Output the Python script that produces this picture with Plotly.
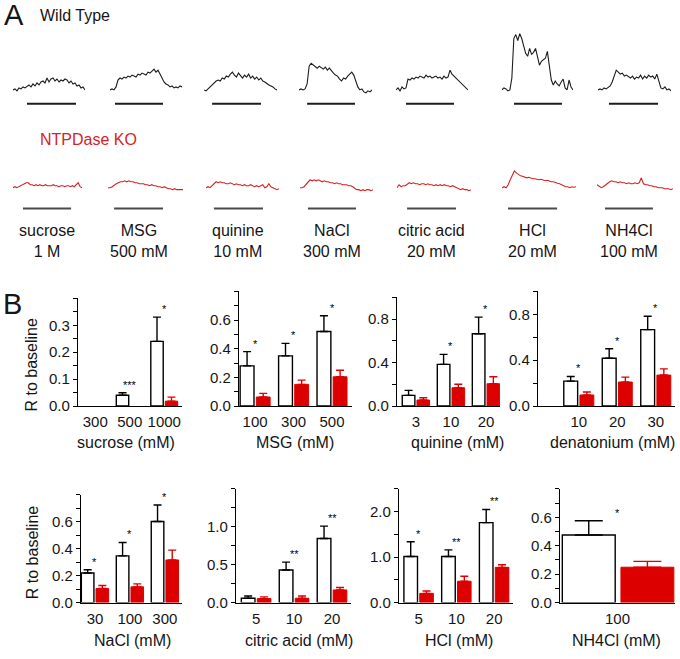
import plotly.graph_objects as go

W, H = 680, 659
FONT = "Liberation Sans, Arial, sans-serif"
BAR_RED = "#dd0000"
TRACE_RED = "#d62222"
TXT = "#151515"

# ---------------- Panel A: stimuli and response traces ----------------
stimuli = ["sucrose", "MSG", "quinine", "NaCl", "citric acid", "HCl", "NH4Cl"]
concentrations = ["1 M", "500 mM", "10 mM", "300 mM", "20 mM", "20 mM", "100 mM"]

# wild-type traces (rise above baseline, arbitrary units)
wt_sucrose = [0, 1, -1, 2, 1, 3, 2, 4, 5, 3, 6, 4, 7, 5, 8, 9, 7, 12, 8, 11, 12, 9, 11, 8, 10, 9, 11, 10, 7, 9, 6, 7, 4, 5, 2, 3, 0]
wt_msg = [0, 1, 0, 3, 10, 12, 11, 13, 12, 14, 13, 15, 14, 13, 16, 15, 17, 16, 15, 18, 17, 19, 21, 18, 20, 16, 12, 8, 6, 5, 3, 4, 2, 3, 2, 4, 3]
wt_quinine = [0, -1, 1, 3, 6, 8, 9, 10, 9, 12, 11, 14, 13, 16, 18, 15, 13, 17, 14, 12, 15, 13, 16, 12, 14, 11, 13, 10, 12, 9, 8, 6, 5, 4, 3, 1, 0]
wt_nacl = [0, 1, 0, 1, 6, 24, 27, 25, 23, 22, 24, 22, 21, 23, 20, 22, 19, 17, 15, 14, 11, 9, 12, 11, 14, 16, 18, 15, 8, 3, 0, 1, -2, -3, -1, -2, 0]
wt_citric = [0, 2, -1, 3, 1, 2, 11, 10, 12, 11, 13, 12, 14, 13, 12, 15, 13, 14, 12, 13, 14, 12, 13, 11, 14, 12, 13, 20, 16, 14, 12, 9, 7, 5, 3, 2, 0]
wt_hcl = [0, 2, 1, -1, 0, 12, 52, 56, 50, 57, 52, 45, 37, 34, 42, 36, 38, 42, 32, 25, 29, 31, 32, 39, 24, 10, 5, 9, 6, 4, 8, 11, 2, 0, 10, 3, 0]
wt_nh4cl = [0, 1, 0, 2, 1, 3, 4, 8, 13, 20, 18, 16, 17, 14, 15, 13, 12, 14, 11, 13, 12, 15, 11, 14, 12, 15, 13, 14, 11, 16, 8, 2, 1, 3, 0, 1, -1]

# NTPDase KO traces
ko_sucrose = [0, 1, 0, 1, 2, 3, 4, 5, 5, 3, 3, 2, 3, 2, 3, 2, 2, 3, 2, 2, 2, 3, 2, 2, 1, 2, 2, 1, 2, 2, 1, 2, 1, 3, 5, 1, 0]
ko_msg = [0, 0, 1, 3, 4, 5, 6, 6, 7, 6, 7, 6, 6, 5, 5, 4, 4, 4, 3, 3, 2, 3, 2, 2, 1, 1, 0, 1, 0, -1, -1, -2, -1, -2, -2, -2, -2]
ko_quinine = [0, 1, 0, 2, 5, 6, 5, 6, 5, 5, 4, 4, 5, 4, 3, 4, 3, 3, 2, 3, 2, 2, 3, 2, 1, 2, 1, 2, 3, 0, 1, 4, 1, 0, -1, -2, -1]
ko_nacl = [0, 0, 1, 3, 6, 8, 7, 8, 7, 8, 7, 6, 7, 6, 6, 5, 5, 4, 5, 4, 4, 3, 3, 3, 2, 2, 1, -1, -2, -2, -3, -2, -3, -2, -2, -3, -2]
ko_citric = [0, 3, 1, 2, 2, 4, 5, 4, 5, 4, 4, 3, 4, 4, 3, 4, 3, 3, 2, 3, 2, 3, 2, 3, 2, 2, 1, 2, 1, 0, -1, -2, -1, -2, -2, -3, -2]
ko_hcl = [0, 1, 0, 3, 8, 12, 17, 15, 13, 12, 11.5, 11, 10, 10.5, 9.5, 9, 9, 8.5, 8, 8.5, 7.5, 7, 7.5, 6.5, 6, 6, 5, 4.5, 4, 3, 2, 1, 1, 0, 1, 0.5, 1]
ko_nh4cl = [3, 1, 0, 1, 3, 5, 6, 7, 6, 6, 5, 6, 5, 5, 4, 5, 4, 4, 5, 4, 5, 10, 4, 3, 3, 2, 2, 1, 1, 0, 0, 0, -1, -1, -1, -2, -1]

wt_traces = [wt_sucrose, wt_msg, wt_quinine, wt_nacl, wt_citric, wt_hcl, wt_nh4cl]
ko_traces = [ko_sucrose, ko_msg, ko_quinine, ko_nacl, ko_citric, ko_hcl, ko_nh4cl]

# stimulus application window (sample index on, off)
wt_stim = [(7.0, 31.5), (2.5, 26.5), (4.0, 28.1), (4.0, 27.6), (5.0, 29.0), (6.1, 30.4), (5.4, 29.6)]
ko_stim = [(5.2, 30.3), (2.9, 26.4), (3.9, 28.1), (3.9, 27.6), (4.9, 28.7), (2.9, 26.8), (3.8, 26.5)]

# ---------------- Panel B: bar chart data ----------------
sucrose_conc = ["300", "500", "1000"]
sucrose_wt = [None, 0.04, 0.24]
sucrose_wt_err = [0, 0.009, 0.09]
sucrose_ko = [None, None, 0.018]
sucrose_ko_err = [0, 0, 0.015]
sucrose_sig = ["", "***", "*"]

msg_conc = ["100", "300", "500"]
msg_wt = [0.28, 0.35, 0.52]
msg_wt_err = [0.10, 0.087, 0.11]
msg_ko = [0.063, 0.151, 0.204]
msg_ko_err = [0.025, 0.03, 0.046]
msg_sig = ["*", "*", "*"]

quinine_conc = ["3", "10", "20"]
quinine_wt = [0.098, 0.383, 0.665]
quinine_wt_err = [0.046, 0.092, 0.153]
quinine_ko = [0.055, 0.168, 0.205]
quinine_ko_err = [0.021, 0.032, 0.065]
quinine_sig = ["", "*", "*"]

denat_conc = ["10", "20", "30"]
denat_wt = [0.217, 0.417, 0.667]
denat_wt_err = [0.041, 0.083, 0.116]
denat_ko = [0.096, 0.209, 0.27]
denat_ko_err = [0.026, 0.043, 0.054]
denat_sig = ["*", "*", "*"]

nacl_conc = ["30", "100", "300"]
nacl_wt = [0.22, 0.347, 0.603]
nacl_wt_err = [0.024, 0.10, 0.122]
nacl_ko = [0.105, 0.117, 0.317]
nacl_ko_err = [0.022, 0.022, 0.073]
nacl_sig = ["*", "*", "*"]

citric_conc = ["5", "10", "20"]
citric_wt = [0.057, 0.43, 0.846]
citric_wt_err = [0.031, 0.105, 0.164]
citric_ko = [0.053, 0.057, 0.167]
citric_ko_err = [0.022, 0.031, 0.033]
citric_sig = ["", "**", "**"]

hcl_conc = ["5", "10", "20"]
hcl_wt = [1.015, 1.015, 1.76]
hcl_wt_err = [0.325, 0.145, 0.29]
hcl_ko = [0.203, 0.47, 0.776]
hcl_ko_err = [0.051, 0.11, 0.057]
hcl_sig = ["*", "**", "**"]

nh4cl_conc = ["100"]
nh4cl_wt = [0.476]
nh4cl_wt_err = [0.10]
nh4cl_ko = [0.249]
nh4cl_ko_err = [0.041]
nh4cl_sig = ["*"]

# ---------------- figure construction ----------------
fig = go.Figure()
layout = dict(width=W, height=H, margin=dict(l=0, r=0, t=0, b=0), autosize=False,
              showlegend=False, paper_bgcolor="white", plot_bgcolor="white",
              font=dict(family=FONT, color=TXT))
annotations = []
counter = [0]


def px_x(v):
    return v / W


def px_y(v):
    return 1 - v / H


def add_axes(xdom, ydom, xcfg, ycfg):
    counter[0] += 1
    n = counter[0]
    s = "" if n == 1 else str(n)
    layout["xaxis" + s] = dict(domain=[px_x(xdom[0]), px_x(xdom[1])], anchor="y" + s, **xcfg)
    layout["yaxis" + s] = dict(domain=[px_y(ydom[1]), px_y(ydom[0])], anchor="x" + s, **ycfg)
    return "x" + s, "y" + s


def text(x, y, s, size=16, color=TXT, xanchor="center", xref="paper", textangle=0):
    annotations.append(dict(x=x, y=y, xref=xref, yref="paper", text=s, showarrow=False,
                            font=dict(size=size, color=color, family=FONT),
                            xanchor=xanchor, yanchor="middle", textangle=textangle))


# Panel A layout (pixel extents of each trace)
wt_extent = [(13, 85), (110, 182), (204, 277), (299, 372), (396, 468), (502, 573), (598, 671)]
ko_extent = [(13, 82), (108, 183), (206, 279), (300, 373), (397, 471), (502, 576), (597, 673)]
WT_ROW = (28, 108)
WT_RANGE = [-17, 63]
WT_BAR_LEVEL = -14
KO_ROW = (168, 214)
KO_RANGE = [-24, 22]
KO_BAR_LEVEL = -21

for i in range(len(stimuli)):
    tr = wt_traces[i]
    hid = dict(visible=False, range=[0, len(tr) - 1], fixedrange=True)
    xa, ya = add_axes(wt_extent[i], WT_ROW, hid, dict(visible=False, range=WT_RANGE, fixedrange=True))
    fig.add_trace(go.Scatter(x=list(range(len(tr))), y=tr, mode="lines", xaxis=xa, yaxis=ya,
                             line=dict(color="#1c1c1c", width=1.1), hoverinfo="skip"))
    on, off = wt_stim[i]
    fig.add_trace(go.Scatter(x=[on, off], y=[WT_BAR_LEVEL, WT_BAR_LEVEL], mode="lines", xaxis=xa, yaxis=ya,
                             line=dict(color="#1c1c1c", width=2), hoverinfo="skip"))

    tr = ko_traces[i]
    hid = dict(visible=False, range=[0, len(tr) - 1], fixedrange=True)
    xa, ya = add_axes(ko_extent[i], KO_ROW, hid, dict(visible=False, range=KO_RANGE, fixedrange=True))
    fig.add_trace(go.Scatter(x=list(range(len(tr))), y=tr, mode="lines", xaxis=xa, yaxis=ya,
                             line=dict(color=TRACE_RED, width=1.1), hoverinfo="skip"))
    on, off = ko_stim[i]
    fig.add_trace(go.Scatter(x=[on, off], y=[KO_BAR_LEVEL, KO_BAR_LEVEL], mode="lines", xaxis=xa, yaxis=ya,
                             line=dict(color="#4a4a4a", width=2), hoverinfo="skip"))
    text((on + off) / 2, px_y(243.5), f"{stimuli[i]}<br>{concentrations[i]}", size=16, xref=xa)

text(px_x(2), px_y(15), "A", size=29, xanchor="left")
text(px_x(38), px_y(16), "Wild Type", size=16, xanchor="left")
text(px_x(38), px_y(141), "NTPDase KO", size=16, color=TRACE_RED, xanchor="left")
text(px_x(1), px_y(308), "B", size=29, xanchor="left")


def bar_panel(xdom, top_px, zero_px, xrange, ymax, ystep, cats, wt, wt_err, ko, ko_err, sig,
              title, title_x, title_y, bar_w=0.36, wt_off=-0.39, ko_off=0.03, cap=4):
    n = len(cats)
    idx = list(range(n))
    nt = int(round(ymax / ystep))
    tickvals = [round(k * ystep, 4) for k in range(nt + 1)]
    ticktext = [f"{v:.1f}" if (k % 2 == 0 and k < nt) else "" for k, v in enumerate(tickvals)]
    xa, ya = add_axes(
        xdom, (top_px, zero_px),
        dict(range=xrange, tickmode="array", tickvals=idx, ticktext=cats, showline=True,
             linecolor="black", linewidth=1.2, ticks="", showgrid=False, zeroline=False,
             tickfont=dict(size=15, color=TXT), fixedrange=True, ticklabelstandoff=2),
        dict(range=[0, ymax], tickmode="array", tickvals=tickvals, ticktext=ticktext, showline=True,
             linecolor="black", linewidth=1.2, ticks="outside", ticklen=4, tickwidth=1,
             tickcolor="black", showgrid=False, zeroline=False,
             tickfont=dict(size=15, color=TXT), fixedrange=True))
    fig.add_trace(go.Bar(x=idx, y=wt, width=bar_w, offset=wt_off, xaxis=xa, yaxis=ya,
                         marker=dict(color="white", line=dict(color="black", width=1.4)),
                         error_y=dict(type="data", symmetric=False, array=wt_err, arrayminus=[0] * n,
                                      color="black", thickness=1.4, width=cap),
                         hoverinfo="skip"))
    fig.add_trace(go.Bar(x=idx, y=ko, width=bar_w, offset=ko_off, xaxis=xa, yaxis=ya,
                         marker=dict(color=BAR_RED, line=dict(color=BAR_RED, width=1)),
                         error_y=dict(type="data", symmetric=False, array=ko_err, arrayminus=[0] * n,
                                      color=BAR_RED, thickness=1.4, width=cap),
                         hoverinfo="skip"))
    for i in idx:
        if sig[i]:
            tops = [v + e for v, e in ((wt[i], wt_err[i]), (ko[i], ko_err[i])) if v is not None]
            annotations.append(dict(x=i, y=max(tops), xref=xa, yref=ya, text=sig[i], showarrow=False,
                                    font=dict(size=11, color="black", family=FONT),
                                    xanchor="center", yanchor="bottom", yshift=0))
    text(px_x(title_x), px_y(title_y), title, size=16)


# top row
bar_panel((78, 181.5), 302, 411, [-0.5, 2.5], 0.4, 0.05, sucrose_conc, sucrose_wt, sucrose_wt_err,
          sucrose_ko, sucrose_ko_err, sucrose_sig, "sucrose (mM)", 126, 448)
bar_panel((239, 352), 295, 411, [-0.42, 2.52], 0.8, 0.1, msg_conc, msg_wt, msg_wt_err,
          msg_ko, msg_ko_err, msg_sig, "MSG (mM)", 295, 448)
bar_panel((397, 500), 301, 411, [-0.54, 2.4], 1.0, 0.2, quinine_conc, quinine_wt, quinine_wt_err,
          quinine_ko, quinine_ko_err, quinine_sig, "quinine (mM)", 457, 448)
bar_panel((538, 675), 295, 411, [-1.06, 2.5], 1.0, 0.2, denat_conc, denat_wt, denat_wt_err,
          denat_ko, denat_ko_err, denat_sig, "denatonium (mM)", 612, 448)
# bottom row
bar_panel((81, 182), 501, 610, [-0.4, 2.49], 0.8, 0.1, nacl_conc, nacl_wt, nacl_wt_err,
          nacl_ko, nacl_ko_err, nacl_sig, "NaCl (mM)", 132, 648)
bar_panel((236, 351), 495, 610, [-0.53, 2.5], 1.5, 0.25, citric_conc, citric_wt, citric_wt_err,
          citric_ko, citric_ko_err, citric_sig, "citric acid (mM)", 299, 648)
bar_panel((399, 513), 495, 610, [-0.52, 2.5], 2.5, 0.5, hcl_conc, hcl_wt, hcl_wt_err,
          hcl_ko, hcl_ko_err, hcl_sig, "HCl (mM)", 459, 648)
bar_panel((560, 675), 495, 610, [-0.5, 0.5], 0.8, 0.1, nh4cl_conc, nh4cl_wt, nh4cl_wt_err,
          nh4cl_ko, nh4cl_ko_err, nh4cl_sig, "NH4Cl (mM)", 616, 648,
          bar_w=0.46, wt_off=-0.48, ko_off=0.03, cap=14)

text(px_x(32), px_y(370), "R to baseline", size=16, textangle=-90)
text(px_x(32), px_y(560), "R to baseline", size=16, textangle=-90)

layout["annotations"] = annotations
layout["barmode"] = "overlay"
fig.update_layout(**layout)
fig.write_html("out.html", config={"displayModeBar": False, "staticPlot": True},
               post_script="document.body.style.margin='0';document.body.style.overflow='hidden';")
